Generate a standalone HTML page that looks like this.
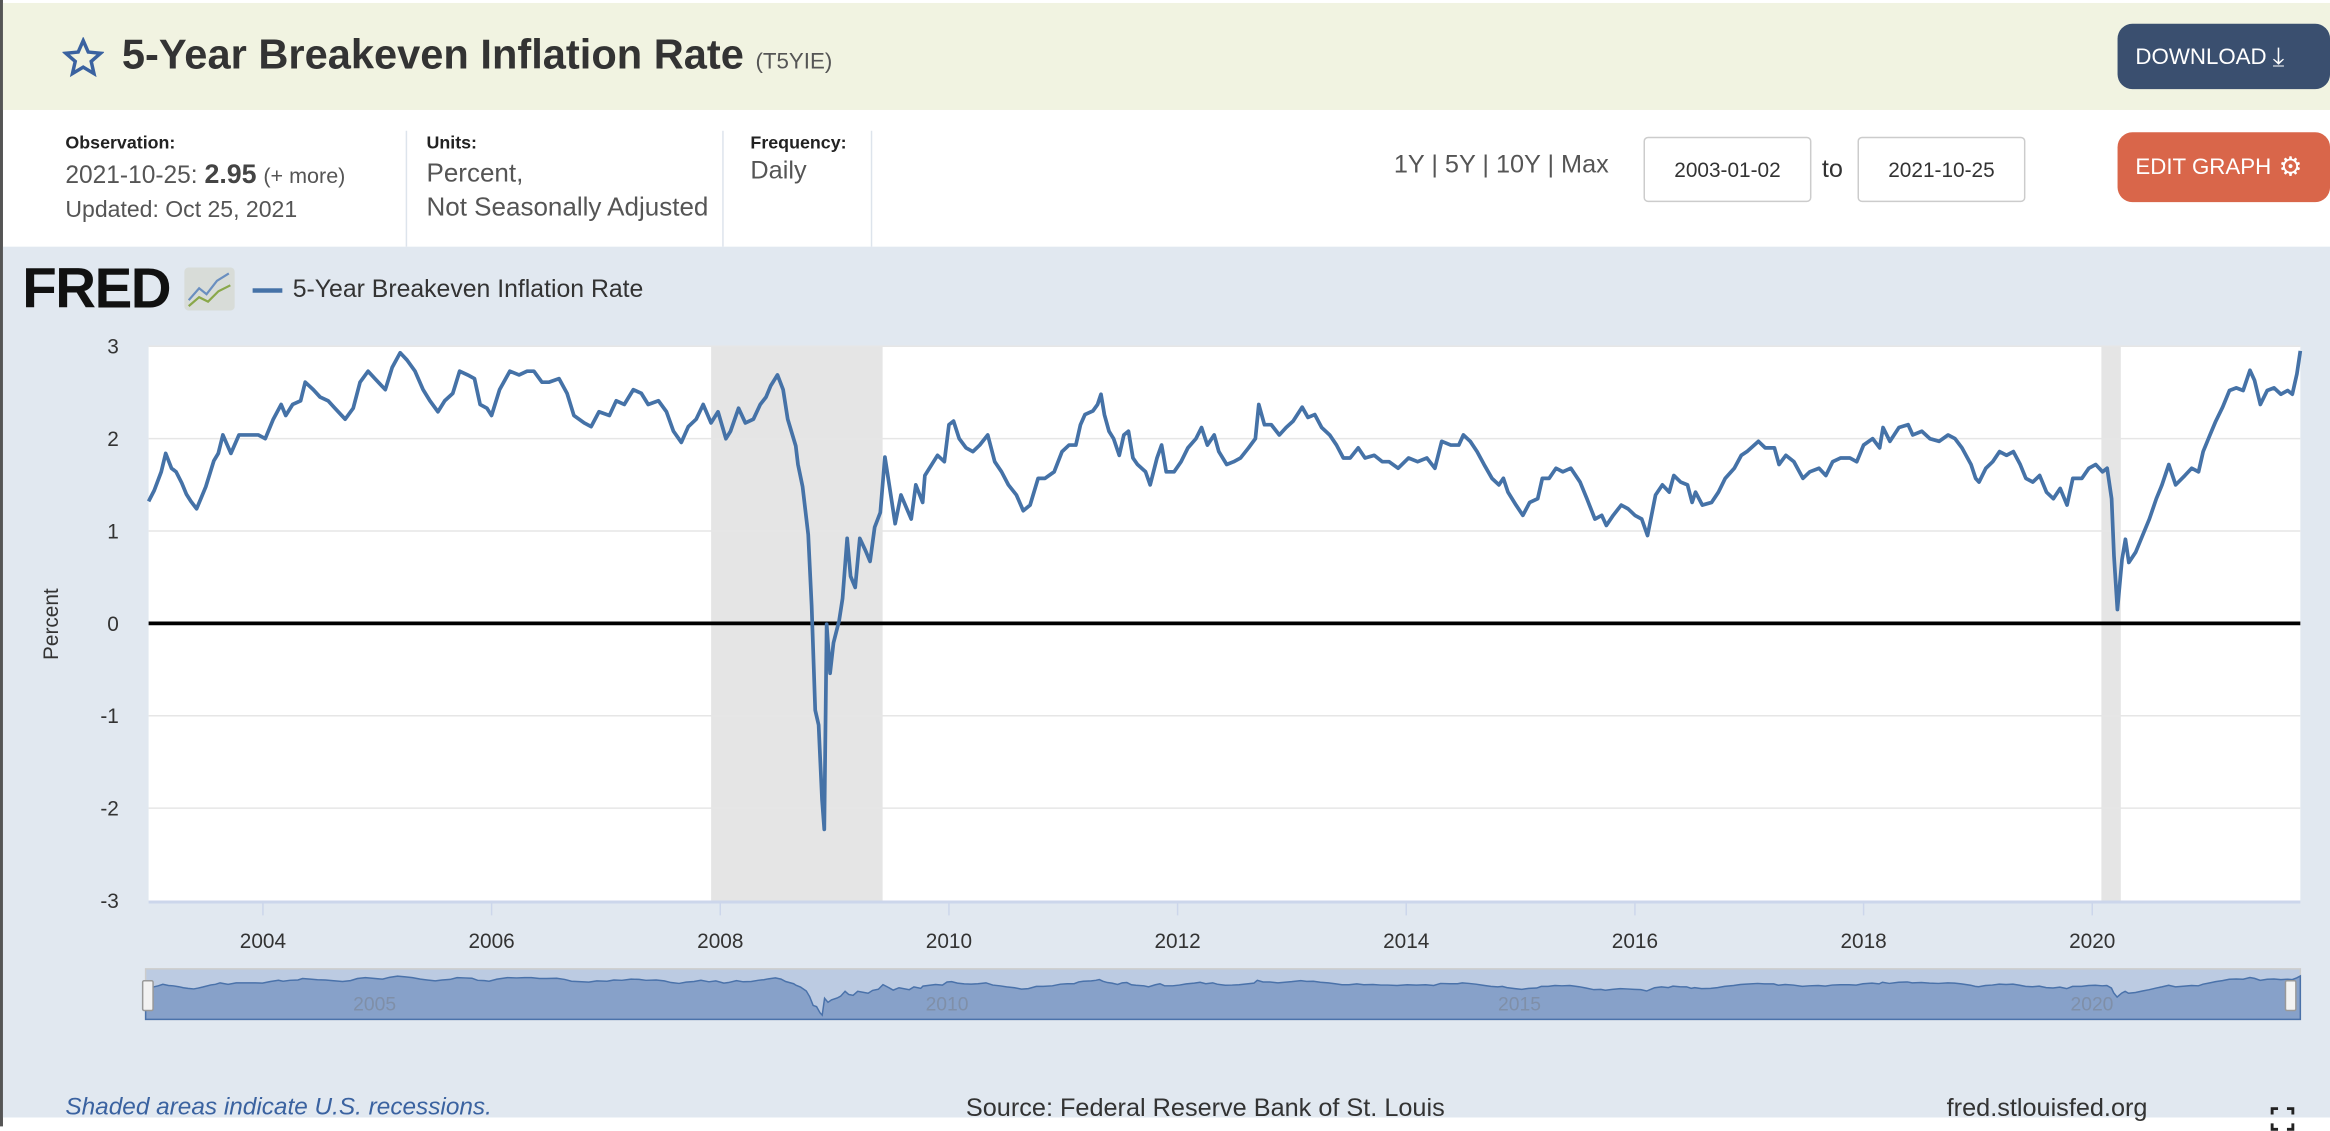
<!DOCTYPE html>
<html><head><meta charset="utf-8"><style>
html,body{margin:0;padding:0;width:2330px;height:1126px;overflow:hidden;background:#fff;}
#wrap{position:absolute;left:0;top:0;width:1568px;height:758px;transform:scale(1.486);transform-origin:0 0;font-family:"Liberation Sans",sans-serif;}
.abs{position:absolute;}
.lbl{font-size:12px;font-weight:bold;color:#222;}
.val{font-size:16.5px;color:#555;}
.sep{position:absolute;top:88px;width:1px;height:78px;background:#dde4ec;}
.btn{position:absolute;border-radius:10px;color:#fff;font-size:15px;display:flex;align-items:center;padding-left:12px;box-sizing:border-box;}
.inp{position:absolute;border:1px solid #ccc;border-radius:3px;background:#fff;font-size:14px;color:#333;display:flex;align-items:center;justify-content:center;box-sizing:border-box;}
</style></head><body>
<div id="wrap">
<div class="abs" style="left:0;top:0;width:2px;height:758px;background:#555;"></div>
<div class="abs" style="left:2px;top:2px;width:1566px;height:72px;background:#f1f3e1;"></div>
<svg class="abs" style="left:42px;top:25px" width="28" height="28" viewBox="0 0 24 24"><polygon points="12,2 14.9,8.6 22,9.3 16.6,14 18.2,21 12,17.3 5.8,21 7.4,14 2,9.3 9.1,8.6" fill="none" stroke="#3a62a0" stroke-width="2"/></svg>
<div class="abs" style="left:82px;top:21px;font-size:28px;font-weight:bold;color:#333;white-space:nowrap">5-Year Breakeven Inflation Rate <span style="font-size:15px;font-weight:normal;color:#555">(T5YIE)</span></div>
<div class="btn" style="left:1425px;top:16px;width:143px;height:44px;background:#3a4f6f">DOWNLOAD <span style="margin-left:4px;font-size:18px">&#x2913;</span></div>

<div class="abs lbl" style="left:44px;top:89px">Observation:</div>
<div class="abs val" style="left:44px;top:107px;white-space:nowrap">2021-10-25: <b style="font-size:18px;color:#444">2.95</b> <span style="font-size:14.5px">(+ more)</span></div>
<div class="abs" style="left:44px;top:133px;font-size:15.5px;color:#555">Updated: Oct 25, 2021</div>
<div class="sep" style="left:273px"></div>
<div class="abs lbl" style="left:287px;top:89px">Units:</div>
<div class="abs val" style="left:287px;top:105px;line-height:23px;font-size:17.5px">Percent,<br>Not Seasonally Adjusted</div>
<div class="sep" style="left:486px"></div>
<div class="abs lbl" style="left:505px;top:89px">Frequency:</div>
<div class="abs val" style="left:505px;top:105px;font-size:17px">Daily</div>
<div class="sep" style="left:586px"></div>
<div class="abs" style="left:938px;top:101px;font-size:17px;color:#555;white-space:nowrap">1Y | 5Y | 10Y | Max</div>
<div class="inp" style="left:1106px;top:92px;width:113px;height:44px">2003-01-02</div>
<div class="abs" style="left:1226px;top:104px;font-size:17px;color:#333">to</div>
<div class="inp" style="left:1250px;top:92px;width:113px;height:44px">2021-10-25</div>
<div class="btn" style="left:1425px;top:89px;width:143px;height:47px;background:#d9664a">EDIT GRAPH <span style="margin-left:5px;font-size:18px">&#x2699;</span></div>

<div class="abs" style="left:2px;top:166px;width:1566px;height:586px;background:#e1e8f0"></div>
<div class="abs" style="left:15px;top:174px;font-size:38px;font-weight:900;color:#111;letter-spacing:-1px">FRED</div>
<svg class="abs" style="left:124px;top:180px" width="34" height="29"><rect width="34" height="29" rx="3" fill="#d8dcd8"/><polyline points="3,22 10,14 15,18 22,9 30,4" fill="none" stroke="#6a8fc0" stroke-width="1.5"/><polyline points="3,26 10,20 16,23 23,16 31,12" fill="none" stroke="#8aa84a" stroke-width="1.5"/></svg>
<div class="abs" style="left:170px;top:194px;width:20px;height:3px;background:#4572a7"></div>
<div class="abs" style="left:197px;top:185px;font-size:16.7px;color:#333">5-Year Breakeven Inflation Rate</div>

<svg id="chart" class="abs" style="left:0;top:0" width="1568" height="758"></svg>

<div class="abs" style="left:44px;top:736px;font-size:16.4px;font-style:italic;color:#3a62a0">Shaded areas indicate U.S. recessions.</div>
<div class="abs" style="left:650px;top:736px;font-size:17px;color:#333">Source: Federal Reserve Bank of St. Louis</div>
<div class="abs" style="left:1310px;top:736px;font-size:17px;color:#333">fred.stlouisfed.org</div>
<svg class="abs" style="left:1528px;top:745px" width="16" height="16"><path d="M1 5V1h4M11 1h4v4M15 11v4h-4M5 15H1v-4" fill="none" stroke="#222" stroke-width="2"/></svg>
</div>
<script>
const dates=[2003.00,2003.05,2003.11,2003.15,2003.20,2003.24,2003.29,2003.33,2003.37,2003.42,2003.46,2003.50,2003.57,2003.61,2003.65,2003.72,2003.79,2003.87,2003.96,2004.02,2004.09,2004.16,2004.20,2004.26,2004.33,2004.37,2004.44,2004.50,2004.57,2004.63,2004.72,2004.79,2004.85,2004.92,2004.98,2005.07,2005.13,2005.20,2005.26,2005.33,2005.40,2005.46,2005.53,2005.59,2005.66,2005.72,2005.79,2005.85,2005.90,2005.96,2006.00,2006.07,2006.16,2006.24,2006.31,2006.37,2006.44,2006.50,2006.59,2006.66,2006.72,2006.81,2006.87,2006.94,2007.03,2007.09,2007.16,2007.24,2007.31,2007.37,2007.46,2007.53,2007.59,2007.66,2007.72,2007.79,2007.85,2007.92,2007.98,2008.05,2008.09,2008.16,2008.22,2008.29,2008.35,2008.40,2008.44,2008.50,2008.55,2008.59,2008.66,2008.68,2008.72,2008.77,2008.80,2008.83,2008.86,2008.89,2008.91,2008.93,2008.96,2008.99,2009.04,2009.07,2009.11,2009.14,2009.18,2009.22,2009.27,2009.31,2009.35,2009.40,2009.44,2009.48,2009.53,
2009.58,2009.67,2009.71,2009.77,2009.79,2009.90,2009.96,2010.00,2010.04,2010.09,2010.15,2010.21,2010.27,2010.34,2010.40,2010.46,2010.52,2010.59,2010.65,2010.71,2010.78,2010.84,2010.92,2010.99,2011.05,2011.11,2011.15,2011.19,2011.26,2011.30,2011.33,2011.36,2011.40,2011.44,2011.49,2011.53,2011.57,2011.61,2011.65,2011.72,2011.76,2011.82,2011.86,2011.90,2011.97,2012.03,2012.09,2012.16,2012.21,2012.26,2012.32,2012.36,2012.43,2012.49,2012.55,2012.62,2012.68,2012.71,2012.76,2012.82,2012.89,2012.95,2013.01,2013.09,2013.14,2013.20,2013.26,2013.33,2013.39,2013.45,2013.51,2013.58,2013.64,2013.72,2013.79,2013.85,2013.93,2014.02,2014.10,2014.18,2014.25,2014.31,2014.39,2014.46,2014.50,2014.56,2014.62,2014.68,2014.75,2014.81,2014.85,2014.89,2014.96,2015.02,2015.08,2015.15,2015.19,2015.25,2015.31,2015.37,2015.44,2015.52,2015.58,2015.65,2015.71,2015.75,2015.81,2015.88,2015.94,2016.00,2016.06,2016.11,
2016.18,2016.24,2016.30,2016.34,2016.40,2016.46,2016.50,2016.53,2016.59,2016.67,2016.73,2016.79,2016.87,2016.93,2016.98,2017.08,2017.14,2017.22,2017.26,2017.32,2017.39,2017.47,2017.53,2017.61,2017.67,2017.73,2017.80,2017.88,2017.94,2018.00,2018.08,2018.14,2018.17,2018.23,2018.31,2018.39,2018.43,2018.51,2018.58,2018.66,2018.74,2018.80,2018.86,2018.94,2018.98,2019.01,2019.07,2019.13,2019.19,2019.25,2019.31,2019.37,2019.42,2019.48,2019.54,2019.60,2019.66,2019.72,2019.78,2019.83,2019.91,2019.97,2020.03,2020.09,2020.13,2020.17,2020.19,2020.22,2020.26,2020.29,2020.32,2020.38,2020.44,2020.50,2020.56,2020.61,2020.67,2020.73,2020.81,2020.87,2020.93,2020.97,2021.03,2021.08,2021.14,2021.20,2021.26,2021.32,2021.38,2021.42,2021.47,2021.53,2021.59,2021.65,2021.71,2021.75,2021.79,2021.82];
const rates=[1.32,1.44,1.64,1.84,1.68,1.64,1.52,1.40,1.32,1.24,1.36,1.48,1.76,1.84,2.04,1.84,2.04,2.04,2.04,2.00,2.21,2.37,2.25,2.37,2.41,2.61,2.53,2.45,2.41,2.33,2.21,2.33,2.61,2.73,2.65,2.53,2.77,2.93,2.85,2.73,2.53,2.41,2.29,2.41,2.49,2.73,2.69,2.65,2.37,2.33,2.25,2.53,2.73,2.69,2.73,2.73,2.61,2.61,2.65,2.49,2.25,2.17,2.13,2.29,2.25,2.41,2.37,2.53,2.49,2.37,2.41,2.29,2.08,1.96,2.13,2.21,2.37,2.17,2.29,2.00,2.08,2.33,2.17,2.21,2.37,2.45,2.57,2.69,2.53,2.21,1.92,1.72,1.48,0.96,0.19,-0.94,-1.10,-1.91,-2.23,-0.01,-0.54,-0.21,0.03,0.27,0.92,0.51,0.39,0.92,0.79,0.67,1.04,1.20,1.80,1.48,1.08,
1.39,1.13,1.50,1.31,1.60,1.82,1.75,2.15,2.19,2.00,1.90,1.86,1.93,2.04,1.75,1.64,1.50,1.39,1.22,1.28,1.57,1.57,1.64,1.86,1.93,1.93,2.15,2.26,2.30,2.37,2.48,2.26,2.08,2.00,1.82,2.04,2.08,1.79,1.72,1.64,1.50,1.79,1.93,1.64,1.64,1.75,1.90,2.00,2.12,1.93,2.04,1.86,1.72,1.75,1.79,1.90,2.00,2.37,2.15,2.15,2.04,2.12,2.19,2.34,2.23,2.26,2.12,2.04,1.93,1.79,1.79,1.90,1.79,1.82,1.75,1.75,1.68,1.79,1.75,1.79,1.68,1.97,1.93,1.93,2.04,1.97,1.86,1.72,1.57,1.50,1.57,1.42,1.28,1.17,1.31,1.35,1.57,1.57,1.68,1.64,1.68,1.53,1.35,1.13,1.17,1.06,1.17,1.28,1.24,1.17,1.13,0.95,
1.39,1.50,1.42,1.60,1.53,1.50,1.31,1.42,1.28,1.31,1.42,1.57,1.68,1.82,1.86,1.97,1.90,1.90,1.72,1.82,1.75,1.57,1.64,1.68,1.60,1.75,1.79,1.79,1.75,1.93,2.00,1.90,2.12,1.97,2.12,2.15,2.04,2.08,2.00,1.97,2.04,2.00,1.90,1.72,1.57,1.53,1.68,1.75,1.86,1.82,1.86,1.72,1.57,1.53,1.60,1.42,1.35,1.46,1.28,1.57,1.57,1.68,1.72,1.64,1.68,1.35,0.73,0.15,0.69,0.91,0.66,0.77,0.95,1.13,1.35,1.50,1.72,1.50,1.60,1.68,1.64,1.86,2.04,2.19,2.34,2.52,2.55,2.52,2.74,2.63,2.37,2.52,2.55,2.48,2.52,2.48,2.70,2.95];
const yTicks=[3,2,1,0,-1,-2,-3];
const xTickYears=[2004,2006,2008,2010,2012,2014,2016,2018,2020];
const navLabels=[2005,2010,2015,2020];
const recessions=[[2007.92,2009.42],[2020.08,2020.25]];

const NS='http://www.w3.org/2000/svg';
const svg=document.getElementById('chart');
const X0=100,X1=1548,T0=2003.0,T1=2021.82,PT=233,PB=606,YMAX=3,YMIN=-3;
function xs(t){return X0+(t-T0)/(T1-T0)*(X1-X0);}
function ys(v){return PB-(v-YMIN)/(YMAX-YMIN)*(PB-PT);}
function mk(tag,attrs){const e=document.createElementNS(NS,tag);for(const k in attrs)e.setAttribute(k,attrs[k]);svg.appendChild(e);return e;}

const bg=mk('rect',{x:X0,y:PT,width:X1-X0,height:PB-PT,fill:'#fff'});


recessions.forEach(r=>{
  const e=mk('rect',{x:xs(r[0]),y:PT,width:xs(r[1])-xs(r[0]),height:PB-PT,fill:'#e5e5e5'});
  
  
});
yTicks.forEach(v=>{
  if(v!==0&&v!==YMIN){
    const g=mk('line',{x1:X0,x2:X1,y1:ys(v),y2:ys(v),stroke:'#e6e6e6','stroke-width':1});
    
    
  }
  const t=mk('text',{x:80,y:ys(v)+5,'text-anchor':'end','font-size':14,fill:'#333','font-family':'Liberation Sans, sans-serif'});
  t.textContent=v;
  
  
});
const ax=mk('line',{x1:X0,x2:X1,y1:PB+1,y2:PB+1,stroke:'#ccd6eb','stroke-width':2});


xTickYears.forEach(yr=>{
  const l=mk('line',{x1:xs(yr),x2:xs(yr),y1:PB,y2:PB+10,stroke:'#ccd6eb','stroke-width':1});
  
  
  const t=mk('text',{x:xs(yr),y:638,'text-anchor':'middle','font-size':14,fill:'#333','font-family':'Liberation Sans, sans-serif'});
  t.textContent=yr;
  
  
});
const ytl=mk('text',{x:39,y:420,'text-anchor':'middle','font-size':14,fill:'#333',transform:'rotate(-90 39 420)','font-family':'Liberation Sans, sans-serif'});
ytl.textContent='Percent';


const zl=mk('line',{x1:X0,x2:X1,y1:ys(0),y2:ys(0),stroke:'#000','stroke-width':2.5});


let d='';
dates.forEach((t,i)=>{d+=(i?'L':'M')+xs(t).toFixed(1)+' '+ys(rates[i]).toFixed(1);});
const ln=mk('path',{d:d,fill:'none',stroke:'#4572a7','stroke-width':2.5,'stroke-linejoin':'round'});



const NX0=98,NX1=1548,NT=652,NB=686;
function nx(t){return NX0+(t-T0)/(T1-T0)*(NX1-NX0);}
function ny(v){return NB-2-(v+2.4)/(3.1+2.4)*(NB-NT-6);}
const nbg=mk('rect',{x:NX0,y:NT,width:NX1-NX0,height:NB-NT,fill:'#bccbe2',stroke:'#cccccc','stroke-width':1});


let nd='M'+nx(dates[0])+' '+NB;
dates.forEach((t,i)=>{nd+='L'+nx(t).toFixed(1)+' '+ny(rates[i]).toFixed(1);});
nd+='L'+nx(dates[dates.length-1])+' '+NB+'Z';
const na=mk('path',{d:nd,fill:'#87a1c9',stroke:'#4a72aa','stroke-width':1});


navLabels.forEach(yr=>{
  const t=mk('text',{x:nx(yr),y:680,'text-anchor':'middle','font-size':13,fill:'#7f8fa8','font-family':'Liberation Sans, sans-serif'});
  t.textContent=yr;
  
  
});
[NX0,NX1-8].forEach((hx,i)=>{
  const h=mk('rect',{x:hx-2,y:660,width:7,height:20,fill:'#f2f2f2',stroke:'#999','stroke-width':1,rx:1});
  
  
});
</script>
</body></html>
